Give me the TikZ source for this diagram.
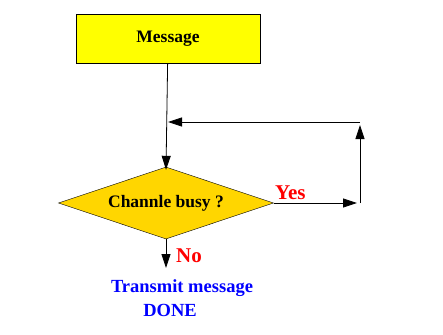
\documentclass[tikz,border=0pt]{standalone}
\usepackage{fontspec}
\setmainfont{Liberation Serif}
\usetikzlibrary{arrows.meta,shapes.geometric}
\definecolor{msgyellow}{RGB}{255,255,0}
\definecolor{decgold}{RGB}{255,214,0}
\tikzset{
  msgbox/.style={draw, fill=msgyellow, minimum width=184pt, minimum height=49pt, inner sep=0pt, font=\bfseries\fontsize{17.5}{20}\selectfont},
  decbox/.style={draw, diamond, fill=decgold, aspect=3, minimum width=215pt, minimum height=72pt, inner sep=0pt, font=\bfseries\fontsize{17.5}{20}\selectfont},
  flowarrow/.style={-{Triangle[length=14pt,width=9pt]}, line width=0.8pt},
  answer/.style={text=red, font=\bfseries\fontsize{21}{24}\selectfont, inner sep=0pt},
  result/.style={text=blue, font=\bfseries\fontsize{18.5}{21}\selectfont, inner sep=0pt}
}
\begin{document}
\begin{tikzpicture}[x=1pt,y=-1pt]
\useasboundingbox (0,0) rectangle (443,334);
\node[msgbox] (message) at (168,38.5) {\raisebox{-2pt}{Message}};
\node[decbox] (busy) at (166,203) {Channle busy ?};
\coordinate (yesend) at (357,203);
\coordinate (loopbottom) at (360,203);
\coordinate (looptop) at (360,125);
\coordinate (loopcorner) at (360,122);
\coordinate (loopend) at (168,122);
\coordinate (noend) at (166,268);
\node[answer,anchor=base west] (yes) at (275,199) {Yes};
\node[answer,anchor=base west] (no) at (176,262) {No};
\node[result] (transmit) at (182,288) {Transmit message};
\node[result] (done) at (170,310) {DONE};
\draw[flowarrow] (message) -- ([yshift=-3pt]busy.north);
\draw[flowarrow] (busy.east) -- (yesend);
\draw[flowarrow] (loopbottom) -- (looptop);
\draw[flowarrow] (loopcorner) -- (loopend);
\draw[flowarrow] (busy.south) -- (noend);
\end{tikzpicture}
\end{document}
